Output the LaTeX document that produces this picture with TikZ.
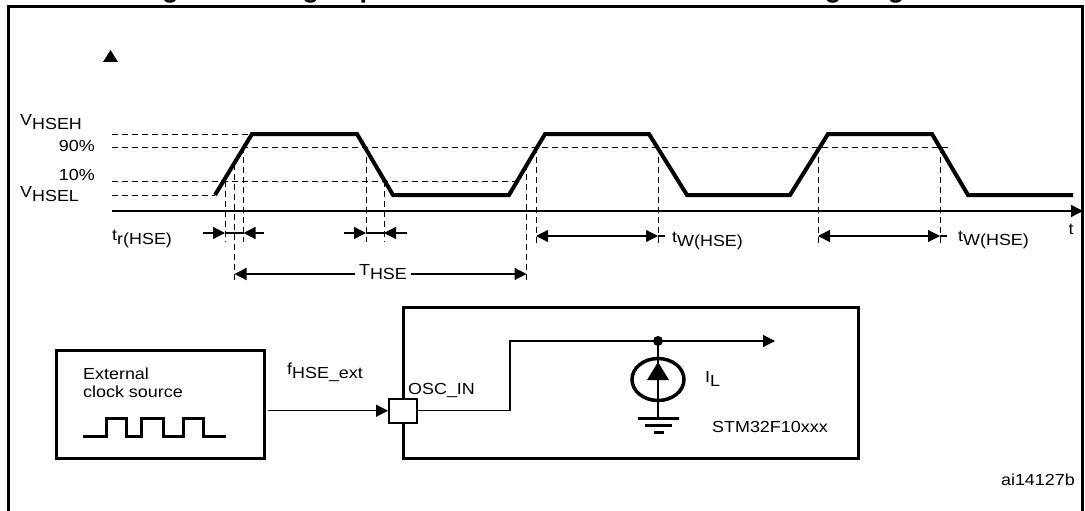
\documentclass[tikz,border=0pt]{standalone}
\usepackage{fontspec}
\usepackage{graphicx}
\setmainfont{Liberation Sans}
\newfontfamily\lblfont[FakeStretch=1.12]{Liberation Sans}
\usetikzlibrary{arrows.meta,calc}
\newcommand\lowsub[2]{#1\raisebox{-4pt}{#2}}
\tikzset{
  every node/.style={font=\lblfont\fontsize{16}{18}\selectfont, inner sep=0pt},
  thinl/.style={line width=1.2pt},
  dsh/.style={line width=1pt, dash pattern=on 6pt off 4pt},
  wave/.style={line width=4pt, line join=miter},
  boxline/.style={line width=2.6pt},
  tri/.style={-{Triangle[length=12pt,width=12pt]}},
  tritri/.style={{Triangle[length=12pt,width=12pt]}-{Triangle[length=12pt,width=12pt]}},
  lbl/.style={anchor=west},
}
\begin{document}
\begin{tikzpicture}[x=1pt,y=-1pt]
\useasboundingbox (0,0) rectangle (1085,511);
% title (mostly cut off above the frame, as in the original)
\begin{scope}
\clip (0,0) rectangle (1085,511);
\node[anchor=base west, font=\normalfont\bfseries\fontsize{27}{30}\selectfont] (title) at (138,-2.4) {Figure 19. High-speed external clock source AC timing diagram};
\end{scope}
% frame
\draw[line width=3pt] (8.5,515) -- (8.5,6.5) -- (1082.5,6.5) -- (1082.5,515);

% y axis marker
\fill (110.5,50) -- (118,62) -- (103,62) -- cycle;

% level dashed lines
\draw[dsh] (112,134) -- (252,134);
\draw[dsh] (112,147) -- (952,147);
\draw[dsh] (112,181) -- (518,181);
\draw[dsh] (112,195) -- (215,195);

% vertical dashed lines
\draw[dsh] (225,181) -- (225,242);
\draw[dsh] (234.5,164) -- (234.5,280);
\draw[dsh] (243.5,147) -- (243.5,242);
\draw[dsh] (366,147) -- (366,242);
\draw[dsh] (384,181) -- (384,242);
\draw[dsh] (526.5,164) -- (526.5,280);
\draw[dsh] (536,147) -- (536,245);
\draw[dsh] (658,147) -- (658,245);
\draw[dsh] (818,147) -- (818,245);
\draw[dsh] (940,147) -- (940,245);

% time axis
\coordinate (ax0) at (112,211);
\coordinate (ax1) at (1083,211);
\draw[thinl, tri] (ax0) -- (ax1);
\node (tlab) at (1071,229) {t};

% waveform
\draw[wave] (215,195) -- (252,134) -- (357,134) -- (393,195) -- (509,195) -- (545,134) -- (649,134) -- (687,195) -- (790,195) -- (828,134) -- (932,134) -- (968,195) -- (1073,195);

% level labels
\node[lbl] (vh) at (20,122) {\lowsub{V}{HSEH}};
\node[anchor=east] (p90) at (95,146) {90\%};
\node[anchor=east] (p10) at (95,175) {10\%};
\node[lbl] (vl) at (20,194) {\lowsub{V}{HSEL}};

% rise time arrows
\draw[thinl, tri] (203,233) -- (225,233);
\draw[thinl, tri] (264,233) -- (243.5,233);
\draw[thinl] (225,233) -- (243.5,233);
\node[lbl] (tr) at (112,239) {\lowsub{t}{r(HSE)}};
\draw[thinl, tri] (344,233) -- (366,233);
\draw[thinl, tri] (407,233) -- (384,233);
\draw[thinl] (366,233) -- (384,233);

% period
\node (thse) at (383,272) {\lowsub{T}{HSE}};
\draw[thinl, tri] (thse.west) ++(-4,2) -- (234.5,274);
\draw[thinl, tri] (thse.east) ++(4,2) -- (526.5,274);

% pulse width arrows
\draw[thinl, tritri] (536,236) -- (658,236);
\draw[thinl] (658,236) -- (665,236);
\node[lbl] (tw1) at (672,241) {\lowsub{t}{W(HSE)}};
\draw[thinl, tritri] (818,236) -- (940,236);
\draw[thinl] (940,236) -- (947,236);
\node[lbl] (tw2) at (958,240) {\lowsub{t}{W(HSE)}};

% external clock source
\node[draw, boxline, anchor=north west, minimum width=208pt, minimum height=108pt] (ext) at (55,349) {};
\node[lbl] (extt1) at (83,374) {External};
\node[lbl] (extt2) at (83,392) {clock source};
\draw[line width=3pt] (83,436) -- (106,436) -- (106,418) -- (126,418) -- (126,436) -- (141,436) -- (141,418) -- (163,418) -- (163,436) -- (183,436) -- (183,418) -- (203,418) -- (203,436) -- (226,436);

% chip
\node[draw, boxline, anchor=north west, minimum width=455pt, minimum height=151pt] (chip) at (402,306) {};
\node[draw, line width=1.5pt, fill=white, anchor=north west, minimum width=28pt, minimum height=24pt] (pin) at (388,398) {};
\node[lbl] (fhse) at (287,372) {\lowsub{f}{HSE\_ext}};
\node[lbl] (osc) at (408,391) {OSC\_IN};
\draw[thinl, tri] (ext.east |- pin.west) ++(2,0) -- (pin.west);

% internal wire
\coordinate (bend) at (510,341);
\coordinate (jn) at (658,341);
\coordinate (wend) at (775,341);
\draw[thinl] (pin.east) -| (bend) -- (jn);
\draw[thinl, tri] (jn) -- (wend);
\fill (jn) circle (5);

% current source
\coordinate (cs) at (658,379.5);
\coordinate (gnd) at (658,418);
\draw[thinl] (jn) -- (gnd);
\draw[line width=3.5pt] (cs) ellipse (26 and 21);
\fill (658,362) -- (669,380) -- (647,380) -- cycle;
\draw[line width=3pt] (638,418) -- (679,418);
\draw[line width=3pt] (645,425) -- (672,425);
\draw[line width=3pt] (654,432) -- (664,432);
\node[lbl] (il) at (705,379) {\lowsub{I}{L}};
\node[lbl] (stm) at (712,427) {STM32F10xxx};

\node[anchor=east] (ai) at (1075,480) {ai14127b};
\end{tikzpicture}
\end{document}
